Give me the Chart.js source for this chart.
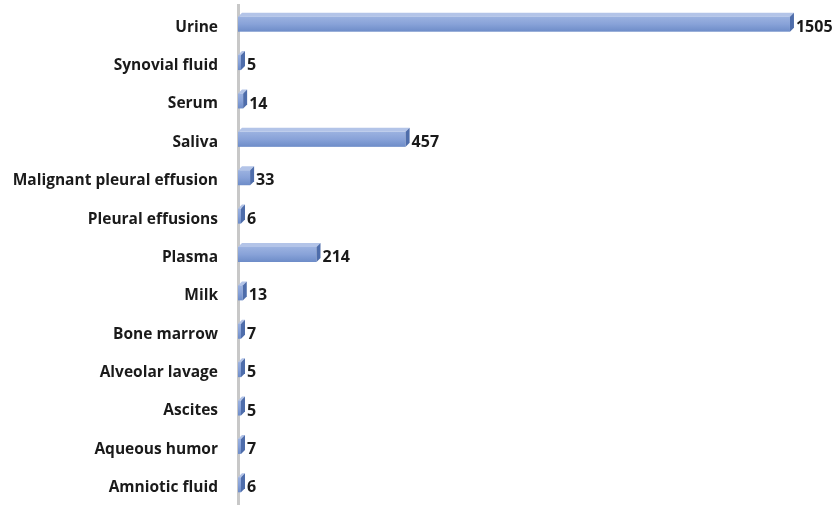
<!DOCTYPE html>
<html>
<head>
<meta charset="utf-8">
<script src="https://cdn.jsdelivr.net/npm/chart.js@4.4.1/dist/chart.umd.min.js"></script>
<style>
  html, body { margin: 0; padding: 0; background: #fff; overflow: hidden; }
</style>
</head>
<body>
<canvas id="c" width="840" height="506"></canvas>
<script>
const categories = ['Urine', 'Synovial fluid', 'Serum', 'Saliva', 'Malignant pleural effusion',
  'Pleural effusions', 'Plasma', 'Milk', 'Bone marrow', 'Alveolar lavage', 'Ascites',
  'Aqueous humor', 'Amniotic fluid'];
const counts = [1505, 5, 14, 457, 33, 6, 214, 13, 7, 5, 5, 7, 6];

const DEPTH = 4;
const FONT = '"Open Sans", sans-serif';

// pseudo-3D bars: front face with gradient, plus top and right faces
const bar3d = {
  id: 'bar3d',
  afterDatasetsDraw(chart) {
    const ctx = chart.ctx;
    const meta = chart.getDatasetMeta(0);
    ctx.save();
    meta.data.forEach((bar, i) => {
      const x0 = bar.base, x1 = bar.x;
      const h = bar.height;
      const y0 = bar.y - h / 2 + DEPTH / 2, y1 = y0 + h - DEPTH;
      // top face
      ctx.fillStyle = '#b3c4e8';
      ctx.beginPath();
      ctx.moveTo(x0, y0);
      ctx.lineTo(x0 + DEPTH, y0 - DEPTH);
      ctx.lineTo(x1 + DEPTH, y0 - DEPTH);
      ctx.lineTo(x1, y0);
      ctx.closePath();
      ctx.fill();
      // front face
      const g = ctx.createLinearGradient(0, y0, 0, y1);
      g.addColorStop(0, '#9bb2e0');
      g.addColorStop(0.5, '#88a2d8');
      g.addColorStop(1, '#6d8cc8');
      ctx.fillStyle = g;
      ctx.fillRect(x0, y0, x1 - x0, y1 - y0);
      // right face
      ctx.fillStyle = '#4e6dab';
      ctx.beginPath();
      ctx.moveTo(x1, y0);
      ctx.lineTo(x1 + DEPTH, y0 - DEPTH);
      ctx.lineTo(x1 + DEPTH, y1 - DEPTH);
      ctx.lineTo(x1, y1);
      ctx.closePath();
      ctx.fill();
      // value label
      ctx.fillStyle = '#1a1a1a';
      ctx.font = 'bold 16px ' + FONT;
      ctx.textAlign = 'left';
      ctx.textBaseline = 'middle';
      ctx.fillText(String(counts[i]), x1 + DEPTH + 2, bar.y + 3);
    });
    ctx.restore();
  }
};

new Chart(document.getElementById('c'), {
  type: 'bar',
  data: {
    labels: categories,
    datasets: [{
      data: counts,
      backgroundColor: 'rgba(0,0,0,0)',
      borderWidth: 0,
      barThickness: 19,
      minBarLength: 3
    }]
  },
  options: {
    indexAxis: 'y',
    responsive: false,
    animation: false,
    layout: { padding: { top: 5, bottom: 2, right: 2 } },
    plugins: { legend: { display: false }, tooltip: { enabled: false } },
    scales: {
      x: {
        min: 0,
        max: 1636,
        display: false
      },
      y: {
        afterFit(scale) {
          scale.width = 238;
          scale.paddingTop = 0;
          scale.paddingBottom = 0;
        },
        grid: { display: false, drawTicks: false },
        border: { display: true, color: '#c8c8c8', width: 3 },
        ticks: {
          padding: 20,
          labelOffset: 3,
          color: '#1a1a1a',
          font: { family: FONT, size: 15.5, weight: 'bold' }
        }
      }
    }
  },
  plugins: [bar3d]
});
</script>
</body>
</html>
